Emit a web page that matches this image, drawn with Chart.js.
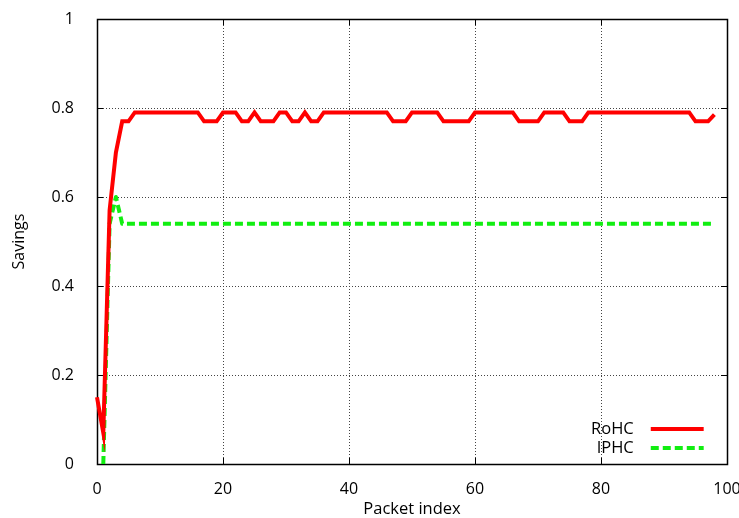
<!DOCTYPE html>
<html>
<head>
<meta charset="utf-8">
<script src="https://cdn.jsdelivr.net/npm/chart.js@4/dist/chart.umd.min.js"></script>
<style>
  html, body { margin: 0; padding: 0; background: #ffffff; }
  #wrap { width: 739px; height: 518px; }
</style>
</head>
<body>
<div id="wrap"><canvas id="c" width="739" height="518"></canvas></div>
<script>
const packetIndex = [0,1,2,3,4,5,6,7,8,9,10,11,12,13,14,15,16,17,18,19,
  20,21,22,23,24,25,26,27,28,29,30,31,32,33,34,35,36,37,38,39,
  40,41,42,43,44,45,46,47,48,49,50,51,52,53,54,55,56,57,58,59,
  60,61,62,63,64,65,66,67,68,69,70,71,72,73,74,75,76,77,78,79,
  80,81,82,83,84,85,86,87,88,89,90,91,92,93,94,95,96,97,98];

const rohcSavings = [0.15,0.07,0.57,0.70,0.77,0.77,0.79,0.79,0.79,0.79,
  0.79,0.79,0.79,0.79,0.79,0.79,0.79,0.77,0.77,0.77,
  0.79,0.79,0.79,0.77,0.77,0.79,0.77,0.77,0.77,0.79,
  0.79,0.77,0.77,0.79,0.77,0.77,0.79,0.79,0.79,0.79,
  0.79,0.79,0.79,0.79,0.79,0.79,0.79,0.77,0.77,0.77,
  0.79,0.79,0.79,0.79,0.79,0.77,0.77,0.77,0.77,0.77,
  0.79,0.79,0.79,0.79,0.79,0.79,0.79,0.77,0.77,0.77,
  0.77,0.79,0.79,0.79,0.79,0.77,0.77,0.77,0.79,0.79,
  0.79,0.79,0.79,0.79,0.79,0.79,0.79,0.79,0.79,0.79,
  0.79,0.79,0.79,0.79,0.79,0.77,0.77,0.77,0.785];

const iphcSavings = [null,0.0,0.54,0.60,0.54,0.54,0.54,0.54,0.54,0.54,
  0.54,0.54,0.54,0.54,0.54,0.54,0.54,0.54,0.54,0.54,
  0.54,0.54,0.54,0.54,0.54,0.54,0.54,0.54,0.54,0.54,
  0.54,0.54,0.54,0.54,0.54,0.54,0.54,0.54,0.54,0.54,
  0.54,0.54,0.54,0.54,0.54,0.54,0.54,0.54,0.54,0.54,
  0.54,0.54,0.54,0.54,0.54,0.54,0.54,0.54,0.54,0.54,
  0.54,0.54,0.54,0.54,0.54,0.54,0.54,0.54,0.54,0.54,
  0.54,0.54,0.54,0.54,0.54,0.54,0.54,0.54,0.54,0.54,
  0.54,0.54,0.54,0.54,0.54,0.54,0.54,0.54,0.54,0.54,
  0.54,0.54,0.54,0.54,0.54,0.54,0.54,0.54,0.54];

const seriesNames = ['RoHC', 'IPHC'];
const xTickLabels = ['0','20','40','60','80','100'];
const yTickLabels = ['0','0.2','0.4','0.6','0.8','1'];
const xAxisTitle = 'Packet index';
const yAxisTitle = 'Savings';

const FONT = '"Open Sans", "DejaVu Sans", sans-serif';

function toPoints(ys) {
  return packetIndex.map((x, i) => ({ x: x, y: ys[i] }));
}

const framePlugin = {
  id: 'frame',
  beforeDatasetsDraw(chart) {
    const { ctx, chartArea: a, scales: { x, y } } = chart;
    ctx.save();
    // dotted grid
    ctx.strokeStyle = '#444444';
    ctx.lineWidth = 1;
    ctx.setLineDash([1, 2]);
    x.ticks.forEach(t => {
      const px = Math.round(x.getPixelForValue(t.value)) + 0.5;
      if (px <= a.left + 1 || px >= a.right - 1) return;
      ctx.beginPath(); ctx.moveTo(px, a.top); ctx.lineTo(px, a.bottom); ctx.stroke();
    });
    y.ticks.forEach(t => {
      const py = Math.round(y.getPixelForValue(t.value)) + 0.5;
      if (py <= a.top + 1 || py >= a.bottom - 1) return;
      ctx.beginPath(); ctx.moveTo(a.left, py); ctx.lineTo(a.right, py); ctx.stroke();
    });
    ctx.setLineDash([]);
    // inward tick marks
    ctx.strokeStyle = '#000000';
    ctx.lineWidth = 1;
    const L = 6;
    x.ticks.forEach(t => {
      const px = Math.round(x.getPixelForValue(t.value)) + 0.5;
      ctx.beginPath();
      ctx.moveTo(px, a.bottom); ctx.lineTo(px, a.bottom - L);
      ctx.moveTo(px, a.top); ctx.lineTo(px, a.top + L);
      ctx.stroke();
    });
    y.ticks.forEach(t => {
      const py = Math.round(y.getPixelForValue(t.value)) + 0.5;
      ctx.beginPath();
      ctx.moveTo(a.left, py); ctx.lineTo(a.left + L, py);
      ctx.moveTo(a.right, py); ctx.lineTo(a.right - L, py);
      ctx.stroke();
    });
    // border box
    ctx.lineWidth = 1.5;
    ctx.strokeRect(Math.round(a.left) + 0.5, Math.round(a.top) + 0.5,
      Math.round(a.right - a.left), Math.round(a.bottom - a.top));
    ctx.restore();
  },
  afterDatasetsDraw(chart) {
    const { ctx } = chart;
    const a = chart.chartArea;
    ctx.save();
    ctx.font = '16.5px ' + FONT;
    ctx.textAlign = 'right';
    ctx.textBaseline = 'middle';
    const textRight = a.left + (a.right - a.left) * 0.852;
    const lineX0 = a.left + (a.right - a.left) * 0.879;
    const lineX1 = a.left + (a.right - a.left) * 0.963;
    const rowY = [a.bottom - 35, a.bottom - 16];
    chart.data.datasets.forEach((ds, i) => {
      ctx.fillStyle = '#000000';
      ctx.fillText(ds.label, textRight, rowY[i]);
      ctx.strokeStyle = ds.borderColor;
      ctx.lineWidth = ds.borderWidth;
      ctx.setLineDash(ds.borderDash || []);
      ctx.beginPath();
      ctx.moveTo(lineX0, rowY[i]);
      ctx.lineTo(lineX1, rowY[i]);
      ctx.stroke();
    });
    ctx.restore();
  }
};

new Chart(document.getElementById('c'), {
  type: 'line',
  data: {
    datasets: [
      {
        label: seriesNames[0],
        data: toPoints(rohcSavings),
        borderColor: '#ff0000',
        borderWidth: 4,
        pointRadius: 0,
        fill: false,
        tension: 0,
        clip: { left: 4, top: 4, right: 4, bottom: 0 }
      },
      {
        label: seriesNames[1],
        data: toPoints(iphcSavings),
        borderColor: '#11ee11',
        borderWidth: 4,
        borderDash: [8, 4],
        borderJoinStyle: 'round',
        pointRadius: 0,
        fill: false,
        tension: 0,
        spanGaps: false,
        clip: { left: 4, top: 4, right: 4, bottom: 0 }
      }
    ]
  },
  options: {
    responsive: false,
    animation: false,
    devicePixelRatio: 1,
    layout: { padding: { top: 19, right: 12, left: 0, bottom: 0 } },
    plugins: { legend: { display: false }, tooltip: { enabled: false } },
    scales: {
      x: {
        type: 'linear',
        min: 0, max: 100,
        grid: { display: false },
        border: { display: false },
        ticks: {
          stepSize: 20,
          padding: 8,
          maxRotation: 0,
          color: '#000000',
          font: { family: FONT, size: 16 },
          callback: (v, i) => xTickLabels[i]
        },
        title: {
          display: true, text: xAxisTitle, color: '#000000',
          font: { family: FONT, size: 16.5, lineHeight: 1 },
          padding: { top: -1, bottom: 0 }
        },
        afterFit(s) { s.height = 54; s.paddingLeft = 0; s.paddingRight = 0; }
      },
      y: {
        min: 0, max: 1,
        grid: { display: false },
        border: { display: false },
        ticks: {
          stepSize: 0.2,
          padding: 15,
          color: '#000000',
          font: { family: FONT, size: 16 },
          callback: (v, i) => yTickLabels[i]
        },
        title: {
          display: true, text: yAxisTitle, color: '#000000',
          font: { family: FONT, size: 16 },
          padding: { top: 9.4, bottom: 0 }
        },
        afterFit(s) { s.width = 97; s.paddingTop = 0; s.paddingBottom = 0; }
      }
    }
  },
  plugins: [framePlugin]
});
</script>
</body>
</html>
